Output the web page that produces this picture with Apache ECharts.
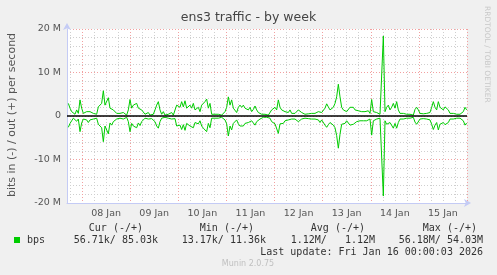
<!DOCTYPE html>
<html><head><meta charset="utf-8">
<script src="https://cdn.jsdelivr.net/npm/echarts@6/dist/echarts.min.js"></script>
<style>html,body{margin:0;padding:0;background:#f0f0f0;}#c{width:497px;height:275px;}</style>
</head><body><div id="c"></div>
<script>
// ---- data (Mbit/s), sampled every ~50 minutes from ~Jan 7 17:10 to Jan 16 00:00 ----
const outValues = [
2.9,1.8,1.0,0.6,0.4,1.4,0.6,3.7,1.8,0.6,
0.2,1.0,1.4,1.0,1.2,0.6,1.0,0.4,2.1,2.0,
2.9,5.8,2.5,2.1,4.2,1.8,2.0,1.4,1.8,0.6,
0.2,0.6,0.4,0.8,0.5,0.2,1.4,3.8,1.8,2.5,
2.1,2.9,1.8,2.1,1.4,1.0,0.4,0.2,0.8,0.2,
0.5,0.4,1.4,2.5,3.3,1.4,0.4,1.0,0.2,0.6,
0.4,0.2,0.8,0.2,0.5,2.5,2.9,2.0,3.3,2.1,
3.5,1.8,1.4,2.5,1.8,2.9,1.4,1.0,2.0,1.0,
2.5,2.9,3.3,3.9,1.8,2.9,0.4,0.4,0.4,0.4,
0.4,0.4,0.2,0.6,1.0,2.0,4.4,2.5,3.7,1.8,
1.4,0.8,2.0,2.5,2.0,2.5,1.8,2.0,1.4,2.0,
1.0,1.5,2.3,1.4,0.8,0.6,0.4,0.2,0.4,0.2,
0.2,0.6,1.4,1.0,2.0,1.4,3.7,
2.0,1.4,1.8,1.0,1.2,0.8,1.4,0.6,1.0,0.6,
0.4,1.4,1.0,0.8,0.6,0.4,0.6,0.5,0.4,0.6,
0.6,0.6,0.6,1.0,1.4,0.8,0.5,1.8,2.8,2.1,
1.4,1.8,2.0,2.9,4.4,7.3,4.4,2.0,1.4,1.8,
1.0,1.4,2.0,1.8,2.0,1.4,1.4,1.2,1.0,1.0,
1.0,1.0,1.0,1.2,0.6,3.8,1.0,0.8,0.8,0.6,
0.4,0.4,18.4,1.0,2.0,2.5,1.4,2.0,2.9,1.8,
3.3,1.4,0.6,0.4,0.6,0.4,0.4,0.4,0.4,0.6,
0.2,1.5,2.0,1.4,0.6,1.0,0.5,0.4,0.6,0.4,
0.8,2.0,3.3,2.0,1.4,3.3,2.0,2.3,1.4,2.1,
2.0,1.4,0.6,0.6,0.6,0.6,0.4,0.5,0.4,0.6,
1.0,2.0,1.4
];
const inValues = [
2.6,1.7,1.1,0.5,0.5,1.2,0.7,3.6,1.6,0.7,
0.3,0.9,1.5,0.9,1.1,0.7,0.9,0.5,1.9,2.2,
2.7,5.9,2.3,2.2,4.1,1.6,2.1,1.3,1.6,0.7,
0.3,0.5,0.5,0.7,0.6,0.3,1.3,3.6,1.7,2.3,
2.2,2.7,1.6,2.2,1.3,1.1,0.5,0.3,0.7,0.3,
0.6,0.5,1.3,2.3,2.8,1.3,0.5,0.9,0.3,0.5,
0.5,0.3,0.7,0.3,0.6,2.3,2.7,2.1,3.1,2.0,
3.3,1.7,1.5,2.3,1.9,2.7,1.5,1.1,1.8,1.1,
2.3,2.8,3.1,3.6,1.7,2.7,0.5,0.5,0.5,0.5,
0.5,0.5,0.3,0.5,0.9,1.8,4.6,2.3,3.2,1.7,
1.3,0.9,1.8,2.3,2.1,2.3,1.7,1.9,1.5,1.8,
1.1,1.4,2.1,1.3,0.9,0.7,0.5,0.3,0.5,0.3,
0.3,0.5,1.3,1.1,1.8,1.5,4.0,
1.8,1.5,1.7,1.1,1.1,0.9,1.3,0.7,0.9,0.7,
0.5,1.3,1.1,0.7,0.7,0.5,0.7,0.6,0.5,0.7,
0.7,0.7,0.7,0.9,1.5,0.9,0.6,2.1,2.6,2.0,
1.5,1.7,2.1,2.7,4.5,7.4,4.2,1.9,1.5,1.7,
1.1,1.3,2.1,1.7,1.9,1.5,1.3,1.3,1.1,1.1,
1.1,1.1,1.1,1.1,0.7,4.4,1.1,0.9,0.7,0.7,
0.5,0.5,18.4,1.1,1.9,2.3,1.5,1.9,2.8,1.7,
2.8,1.5,0.7,0.5,0.7,0.5,0.5,0.5,0.5,0.7,
0.3,1.4,1.9,1.5,0.7,0.9,0.6,0.5,0.7,0.5,
0.9,1.9,3.1,2.1,1.5,3.2,1.9,2.2,1.5,2.0,
1.9,1.5,0.7,0.7,0.7,0.7,0.5,0.6,0.5,0.7,
1.1,2.1,1.6
];
const dayLabels = ['08 Jan','09 Jan','10 Jan','11 Jan','12 Jan','13 Jan','14 Jan','15 Jan'];
const yTicks = [-20, -10, 0, 10, 20];
const legendHeader = ['Cur (-/+)','Min (-/+)','Avg (-/+)','Max (-/+)'];
const legendValues = ['56.71k/ 85.03k','13.17k/ 11.36k','1.12M/   1.12M','56.18M/ 54.03M'];
const seriesName = 'bps';
const lastUpdate = 'Last update: Fri Jan 16 00:00:03 2026';

// ---- time frame ----
const H = 3600e3, D = 24*H;
const tEnd = Date.UTC(2026,0,16);
const xMin = tEnd - 199.5*H, xMax = tEnd;
const t0 = xMin + 0.665*H, step = 0.83125*H;
const outData = outValues.map((v,i)=>[t0+i*step, v*1e6]);
const inData = inValues.map((v,i)=>[t0+i*step, -v*1e6]);
const midnights = [], noons = [], sixHours = [];
for (let d = 0; d < 9; d++) {
  const m = Date.UTC(2026,0,8+d);
  if (m >= xMin && m <= xMax) midnights.push(m);
}
dayLabels.forEach((l,i)=>noons.push(Date.UTC(2026,0,8+i,12)));
for (let t = Date.UTC(2026,0,7,18); t < xMax; t += 6*H) if (t % D !== 0) sixHours.push(t);

const mono = 'DejaVu Sans Mono';
const sans = 'DejaVu Sans';
const txtColor = '#333';
const chart = echarts.init(document.getElementById('c'), null, {renderer:'canvas'});
const graphic = [
  {type:'text', left:'center', top:11, style:{text:'ens3 traffic - by week', font:'12.5px "DejaVu Sans"', fill:'#444'}},
  {type:'text', x:12, y:115, rotation:Math.PI/2, style:{text:'bits in (-) / out (+) per second', font:'11px "DejaVu Sans"', fill:'#555', align:'center', verticalAlign:'middle'}},
  {type:'text', x:487, y:6, rotation:-Math.PI/2, style:{text:'RRDTOOL / TOBI OETIKER', font:'7.5px "DejaVu Sans"', fill:'#c8c8c8', align:'left', verticalAlign:'middle'}},
  {type:'rect', shape:{x:14, y:237, width:6, height:6}, style:{fill:'#00cc00'}},
  {type:'text', x:27, y:240, style:{text:seriesName, font:'10px '+mono, fill:txtColor, verticalAlign:'middle'}},
  {type:'text', x:483, y:252, style:{text:lastUpdate, font:'10px '+mono, fill:txtColor, align:'right', verticalAlign:'middle'}},
  {type:'text', x:248, y:264, style:{text:'Munin 2.0.75', font:'8px "DejaVu Sans"', fill:'#c0c0c0', align:'center', verticalAlign:'middle'}}
];
const headerRight = [143,254,365,477];
const valueRight = [158,266,375,483];
legendHeader.forEach((h,i)=>graphic.push({type:'text', x:headerRight[i], y:228, style:{text:h, font:'10px '+mono, fill:txtColor, align:'right', verticalAlign:'middle'}}));
legendValues.forEach((h,i)=>graphic.push({type:'text', x:valueRight[i], y:240, style:{text:h, font:'10px '+mono, fill:txtColor, align:'right', verticalAlign:'middle'}}));

chart.setOption({
  animation:false,
  backgroundColor:'#f0f0f0',
  grid:{left:67, top:29, width:400, height:174, show:true, backgroundColor:'#ffffff', borderWidth:0},
  xAxis:[
    {type:'value', min:xMin, max:xMax, position:'top', axisLine:{show:false}, axisLabel:{show:false},
     axisTick:{show:false, customValues:sixHours},
     splitLine:{show:true, lineStyle:{color:'#cfcfcf', type:[1,2], width:1}}},
    {type:'value', min:xMin, max:xMax, position:'bottom',
     axisLine:{show:true, lineStyle:{color:'#c4cbf5', width:1}, symbol:['none','arrow'], symbolSize:[6,7], symbolOffset:[0,4]},
     axisTick:{show:false, customValues:midnights},
     axisLabel:{customValues:noons, formatter:(v)=>{const i=noons.indexOf(v); return i>=0?dayLabels[i]:'';}, color:'#555', fontSize:9.5, fontFamily:sans, margin:6},
     splitLine:{show:true, lineStyle:{color:'#f2a0a0', type:[1,2], width:1}}}
  ],
  yAxis:{type:'value', min:-20e6, max:20e6, interval:10e6,
    axisLine:{show:true, lineStyle:{color:'#c4cbf5', width:1}, symbol:['none','arrow'], symbolSize:[6,7], symbolOffset:[0,6]},
    axisTick:{show:false},
    axisLabel:{formatter:(v)=>{const m=Math.round(v/1e6); return yTicks.includes(m)?(m===0?'0':m+' M'):'';}, color:'#555', fontSize:9.5, fontFamily:sans, margin:6},
    splitLine:{show:true, lineStyle:{color:'#f2a0a0', type:[1,2], width:1}},
    minorTick:{show:false, splitNumber:5},
    minorSplitLine:{show:true, lineStyle:{color:'#cfcfcf', type:[1,2], width:1}}
  },
  series:[
    {type:'line', name:'out', xAxisIndex:1, data:outData, showSymbol:false, lineStyle:{color:'#00cc00', width:1}, z:3,
     markLine:{silent:true, symbol:['none','none'], label:{show:false}, lineStyle:{color:'#000', type:'solid', width:1.5}, data:[{yAxis:0}]}},
    {type:'line', name:'in', xAxisIndex:1, data:inData, showSymbol:false, lineStyle:{color:'#00cc00', width:1}, z:3}
  ],
  graphic:graphic
});
</script></body></html>
